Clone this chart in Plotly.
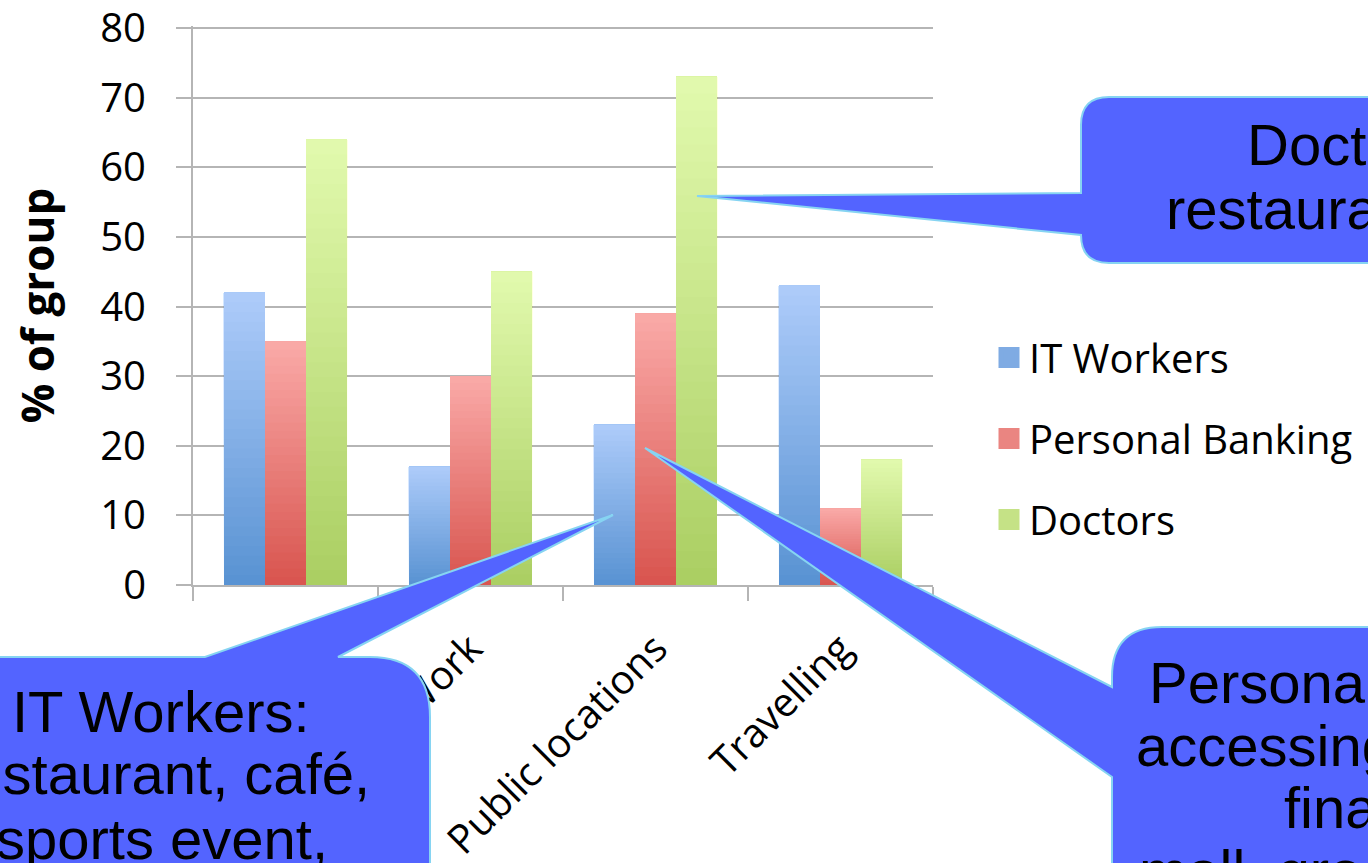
import plotly.graph_objects as go

# ---------------- data ----------------
categories = ["Home", "Work", "Public locations", "Travelling"]
series_names = ["IT Workers", "Personal Banking", "Doctors"]
it_workers = [42, 17, 23, 43]
personal_banking = [35, 30, 39, 11]
doctors = [64, 45, 73, 18]
y_ticks = [0, 10, 20, 30, 40, 50, 60, 70, 80]

series_values = [it_workers, personal_banking, doctors]
# (bottom colour, top colour) for each series gradient
grad_colors = [((88, 146, 210), (174, 204, 250)),
               ((216, 84, 78), (250, 170, 168)),
               ((170, 206, 98), (226, 250, 174))]
legend_colors = ["#7fabe3", "#ea8581", "#c5e286"]

# ---------------- geometry helpers (pixels -> paper) ----------------
W, H = 1368, 863
PL, PR, PT, PB = 193, 933, 26, 585
Y80_PIX = 28                      # pixel row of the 80 gridline
Y_TOP = 80 * (PB - PT) / (PB - Y80_PIX)


def px(x):
    return (x - PL) / (PR - PL)


def py(y):
    return (PB - y) / (PB - PT)


def mix(c0, c1, t):
    return "rgb(%d,%d,%d)" % tuple(round(a + (b - a) * t) for a, b in zip(c0, c1))


fig = go.Figure()

NSEG = 30
for s, (name, vals) in enumerate(zip(series_names, series_values)):
    c0, c1 = grad_colors[s]
    for k in range(NSEG):
        # each slice runs from its own start up to the bar top; later slices overlay
        fig.add_trace(go.Bar(
            x=categories,
            y=[v * (NSEG - k) / NSEG for v in vals],
            base=[v * k / NSEG for v in vals],
            offsetgroup=str(s),
            marker=dict(color=mix(c0, c1, (k + 0.5) / NSEG), line=dict(width=0)),
            showlegend=False,
            legendgroup=name,
            hoverinfo="skip",
        ))
    # legend entry
    fig.add_trace(go.Scatter(
        x=[None], y=[None], mode="markers", name=name, legendgroup=name,
        marker=dict(symbol="square", size=16, color=legend_colors[s],
                    line=dict(width=5, color=legend_colors[s])),
    ))

grid = "#b5b5b5"
fig.update_layout(
    width=W, height=H,
    margin=dict(l=PL, r=W - PR, t=PT, b=H - PB, autoexpand=False),
    paper_bgcolor="white", plot_bgcolor="white",
    barmode="group", bargap=0.335, bargroupgap=0,
    font=dict(family="Open Sans", color="black"),
    showlegend=True,
    legend=dict(x=px(989), y=py(325), xanchor="left", yanchor="top",
                font=dict(family="Open Sans", size=40, color="black"),
                tracegroupgap=26, bgcolor="rgba(0,0,0,0)"),
    xaxis=dict(type="category", categoryorder="array", categoryarray=categories,
               showline=True, linecolor=grid, linewidth=2,
               ticks="outside", tickson="boundaries", ticklen=14, tickwidth=2,
               tickcolor=grid, showgrid=False, tickangle=-45,
               ticklabelstandoff=22, ticklabeloverflow="allow",
               tickfont=dict(family="Open Sans", size=40, color="black")),
    yaxis=dict(range=[0, Y_TOP], tickvals=y_ticks, showline=True, linecolor=grid,
               linewidth=2, ticks="outside", ticklen=15, tickwidth=2, tickcolor=grid,
               showgrid=True, gridcolor=grid, gridwidth=2, zeroline=False,
               ticklabelstandoff=22, ticklabeloverflow="allow",
               tickfont=dict(family="Open Sans", size=40, color="black"),
               title=dict(text="<b>% of group</b>", standoff=32,
                          font=dict(family="Open Sans", size=44, color="black"))),
)

# ---------------- callouts ----------------
FILL = "#5364ff"
EDGE = "#86d4f2"


def path_from(cmds):
    out = []
    for c in cmds:
        op = c[0]
        nums = c[1:]
        pts = []
        for i in range(0, len(nums), 2):
            pts.append("%.5f,%.5f" % (px(nums[i]), py(nums[i + 1])))
        out.append(op + " ".join(pts))
    return " ".join(out) + " Z"


callout_it = [("M", -40, 657), ("L", 205, 657), ("L", 613, 515), ("L", 338, 657),
              ("L", 370, 657), ("Q", 430, 657, 430, 717), ("L", 430, 920), ("L", -40, 920)]
callout_doc = [("M", 1500, 97), ("L", 1109, 97), ("Q", 1081, 97, 1081, 125), ("L", 1081, 193),
               ("L", 697, 196), ("L", 1081, 235), ("Q", 1081, 263, 1109, 263), ("L", 1500, 263)]
callout_pb = [("M", 1500, 627), ("L", 1162, 627), ("Q", 1112, 627, 1112, 677), ("L", 1112, 687),
              ("L", 645, 448), ("L", 1112, 777), ("L", 1112, 920), ("L", 1500, 920)]

for cmds in (callout_it, callout_doc, callout_pb):
    fig.add_shape(type="path", path=path_from(cmds), xref="paper", yref="paper",
                  fillcolor=FILL, line=dict(color=EDGE, width=2), layer="above")

CALLOUT_FONT = dict(family="Liberation Sans, Arial", size=58, color="black")
# (text, x pixel, baseline pixel, anchor)
callout_lines = [
    ("IT Workers:", 161, 731, "center"),
    ("restaurant, café,", 160, 793, "center"),
    ("sports event,", 162, 858, "center"),
    ("Doctors:", 1246, 165, "left"),
    ("restaurant, café,", 1165, 228, "left"),
    ("Personal Banking:", 1148, 702, "left"),
    ("accessing personal", 1135, 765, "left"),
    ("finances:", 1283, 827, "left"),
    ("mall, grocery store", 1138, 890, "left"),
]
for text, x, base, anchor in callout_lines:
    fig.add_annotation(text=text, x=px(x), y=py(base - 20), xref="paper", yref="paper",
                       xanchor=anchor, yanchor="middle", showarrow=False,
                       font=CALLOUT_FONT, borderpad=0)

fig.write_html("out.html", config={"displayModeBar": False})
